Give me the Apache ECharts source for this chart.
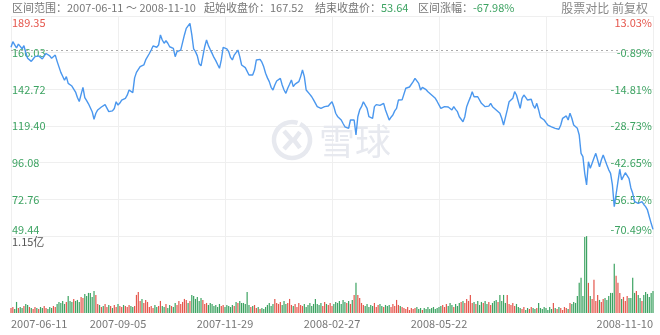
<!DOCTYPE html>
<html>
<head>
<meta charset="utf-8">
<title>区间走势</title>
<script src="https://cdn.jsdelivr.net/npm/echarts@6/dist/echarts.min.js"></script>
<style>
html,body{margin:0;padding:0;background:#fff;}
#main{width:660px;height:335px;}
</style>
</head>
<body>
<div id="main"></div>
<script>
// 区间 2007-06-11 ~ 2008-11-10 前复权收盘价 / 成交量(百万股)
var dateTicks = ['2007-06-11', '2007-09-05', '2007-11-29', '2008-02-27', '2008-05-22', '', '2008-11-10'];
var priceTicks = ['49.44', '72.76', '96.08', '119.40', '142.72', '166.03', '189.35'];
var pctTicks = ['-70.49%', '-56.57%', '-42.65%', '-28.73%', '-14.81%', '-0.89%', '13.03%'];
var startClose = 167.52;

var closes = [
	169.5,173.0,171.0,169.0,171.5,170.0,168.5,170.5,166.0,162.5,
	163.5,160.5,162.0,163.5,162.5,164.0,163.0,162.0,164.0,165.5,
	165.0,164.0,162.5,163.5,164.5,160.5,157.0,153.5,151.0,148.5,
	150.8,146.5,145.5,144.8,145.5,141.0,137.5,135.0,139.5,144.0,
	137.5,135.5,133.5,131.0,128.5,123.7,127.5,129.6,128.5,131.5,
	131.0,133.0,133.8,128.5,129.5,129.0,130.5,134.8,132.7,134.0,
	135.9,135.5,137.0,139.0,142.3,142.0,140.6,150.0,153.5,154.5,
	157.1,156.0,158.2,161.4,162.4,165.5,167.7,170.3,169.8,169.5,
	170.9,177.3,174.1,172.0,173.6,172.0,169.8,170.9,168.8,163.5,
	166.7,167.0,167.7,168.8,177.3,181.5,180.4,184.7,177.5,168.5,
	166.7,164.0,159.0,157.6,158.2,169.8,174.1,170.5,168.0,165.6,
	163.0,161.0,158.5,156.1,161.4,169.4,168.8,168.5,166.7,163.0,
	161.4,164.5,163.5,167.7,163.5,158.2,157.5,156.5,155.4,151.8,
	152.5,151.8,155.0,161.4,160.3,161.8,160.0,157.0,152.9,150.0,
	147.6,144.0,142.3,145.5,148.0,148.7,149.7,145.5,142.3,140.2,
	143.4,146.0,148.7,144.4,146.0,147.0,147.6,150.8,155.0,150.8,
	142.3,141.2,139.5,138.0,136.0,134.8,131.7,131.0,130.6,131.5,
	131.7,130.6,132.1,133.5,134.8,131.7,127.5,125.5,124.3,123.2,
	121.0,118.9,120.0,117.9,123.2,123.0,123.2,113.7,125.3,129.6,
	131.7,134.8,133.8,130.6,125.3,124.8,124.3,131.7,133.0,133.8,
	132.5,131.7,133.8,129.6,126.4,123.2,125.0,126.4,129.0,130.6,
	135.9,135.5,136.0,137.0,143.4,144.0,144.2,144.4,147.6,149.7,
	148.7,146.5,142.3,144.0,143.4,142.5,141.2,140.0,139.1,138.0,
	137.0,135.0,133.8,130.6,131.0,131.7,132.7,131.5,130.6,129.6,
	131.7,130.0,128.5,125.3,125.8,122.1,125.3,131.7,134.8,137.6,
	141.2,138.0,139.1,138.0,137.0,133.8,134.8,131.7,130.6,132.0,
	133.8,131.7,130.5,129.6,130.0,127.5,124.3,120.0,119.4,129.6,
	134.8,135.9,137.0,141.2,139.1,134.8,130.6,137.0,139.1,137.6,
	135.9,136.2,136.4,132.7,130.6,133.8,129.6,124.9,124.0,123.2,
	121.5,120.0,119.5,118.9,120.0,117.9,118.0,117.3,120.0,124.3,
	125.0,125.8,123.2,127.5,124.3,120.0,119.0,117.9,113.7,102.0,
	99.9,89.3,81.9,96.7,92.5,95.7,99.0,102.0,103.1,93.5,
	97.8,100.9,97.8,94.6,91.5,89.3,81.9,68.1,76.0,84.0,
	91.9,85.1,85.5,89.7,90.3,86.0,80.0,76.6,71.3,72.3,
	70.2,69.1,71.3,69.5,68.1,66.0,61.7,57.5,53.64
];

var volumes = [
	7.5,9,6,16.5,7.5,9,7.5,10.5,13.5,12,
	9,7.5,6,9,7.5,6,9,7.5,10.5,7.5,
	6,9,7.5,10.5,9,13.5,16.5,15,18,13.5,
	16.5,25.5,18,16.5,21,18,19.5,16.5,24,22.5,
	28.5,25.5,30,30,24,33,27,13.5,12,9,
	10.5,13.5,9,12,10.5,7.5,12,9,13.5,10.5,
	9,12,10.5,9,12,10.5,9,10.5,27,31.5,
	18,21,15,19.5,16.5,9,10.5,7.5,12,9,
	10.5,18,10.5,9,13.5,7.5,12,10.5,9,15,
	12,18,13.5,16.5,21,19.5,15,18,27,25.5,
	21,24,18,22.5,19.5,13.5,15,12,15,13.5,
	10.5,12,9,13.5,10.5,12,9,12,10.5,9,
	12,10.5,16.5,15,18,15,15,13.5,31.5,12,
	9,10.5,12,7.5,9,6,7.5,6,9,12,
	15,10.5,13.5,21,15,13.5,16.5,12,18,13.5,
	15,21,12,10.5,13.5,9,15,12,10.5,13.5,
	9,12,15,10.5,13.5,21,13.5,12,15,10.5,
	16.5,13.5,12,15,10.5,13.5,16.5,15,18,13.5,
	19.5,16.5,15,18,13.5,19.5,27,45,27,22.5,
	15,12,10.5,13.5,9,12,10.5,15,9,12,
	13.5,10.5,9,12,10.5,12,9,13.5,10.5,19.5,
	12,10.5,9,7.5,6,9,4.5,7.5,6,7.5,
	9,6,7.5,4.5,7.5,6,9,6,7.5,9,
	6,7.5,9,10.5,12,9,13.5,10.5,15,12,
	9,13.5,10.5,15,16.5,18,15,21,18,27,
	15,16.5,13.5,18,12,16.5,15,18,13.5,16.5,
	12,15,18,19.5,16.5,27,18,27,15,27,
	13.5,12,15,10.5,13.5,9,7.5,6,9,4.5,
	7.5,6,9,7.5,6,7.5,15,7.5,6,9,
	7.5,4.5,9,6,15,7.5,6,9,7.5,4.5,
	9,7.5,6,15,13.5,16.5,15,25.5,45,52.5,
	25.5,113.5,114.8,45,25.5,21,49.5,18,27,19.5,
	16.5,21,22.5,19.5,25.5,30,30,73.5,55.5,45,
	30,21,24,18,25.5,22.5,22.5,52.5,30,33,
	27,22.5,18,27,31.5,28.5,24,30,33
];

var priceMin = 49.44;
var priceStep = 23.3183;
var volMax = 115;

var RED = '#e5564c';
var GREEN = '#3da362';
var MARK = '#e7e9ef';
var FONT = '"Noto Sans CJK SC", "Noto Sans", sans-serif';

var last = closes.length - 1;
var endClose = closes[last];
var rangePct = ((endClose / startClose - 1) * 100).toFixed(2) + '%';

var linePts = [];
var barPts = [];
for (var i = 0; i < closes.length; i++) {
	linePts.push([i, closes[i]]);
	var prev = i === 0 ? startClose : closes[i - 1];
	barPts.push({
		value: [i, volumes[i]],
		itemStyle: {color: closes[i] >= prev ? RED : GREEN}
	});
}

function tickIdx(v) {
	return Math.round((v - priceMin) / priceStep);
}

var chart = echarts.init(document.getElementById('main'));
var option = {
	animation: false,
	textStyle: {fontFamily: FONT},
	grid: [
		{left: 11, right: 7, top: 16, height: 220},
		{left: 11, right: 7, top: 236, height: 77}
	],
	xAxis: [{
		type: 'value', gridIndex: 0, min: 0, max: last, interval: last / 6,
		axisLine: {show: false}, axisTick: {show: false}, axisLabel: {show: false},
		splitLine: {show: true, lineStyle: {color: '#efefef'}}
	}, {
		type: 'value', gridIndex: 1, min: 0, max: last, interval: last / 6,
		axisLine: {show: false}, axisTick: {show: false},
		splitLine: {show: true, lineStyle: {color: '#efefef'}},
		axisLabel: {
			color: '#777', fontSize: 11, margin: 5, fontFamily: FONT,
			showMinLabel: true, showMaxLabel: true,
			alignMinLabel: 'left', alignMaxLabel: 'right',
			formatter: function (v) {
				return dateTicks[Math.round(v / (last / 6))] || '';
			}
		}
	}],
	yAxis: [{
		type: 'value', gridIndex: 0, position: 'left',
		min: priceMin, max: priceMin + priceStep * 6, interval: priceStep,
		axisLine: {show: false}, axisTick: {show: false},
		splitLine: {show: true, lineStyle: {color: '#efefef'}},
		axisLabel: {
			inside: true, margin: 1, fontSize: 11, fontFamily: FONT,
			showMinLabel: true, showMaxLabel: true,
			formatter: function (v) {
				var k = tickIdx(v);
				var s = priceTicks[k];
				if (k === 6) return '{rt|' + s + '}';
				if (k === 0) return '{gb|' + s + '}';
				return '{g|' + s + '}';
			},
			rich: {
				g: {color: GREEN, fontSize: 11},
				rt: {color: RED, fontSize: 11, padding: [14, 0, 0, 0]},
				gb: {color: GREEN, fontSize: 11, padding: [0, 0, 12, 0]}
			}
		}
	}, {
		type: 'value', gridIndex: 0, position: 'right',
		min: priceMin, max: priceMin + priceStep * 6, interval: priceStep,
		axisLine: {show: false}, axisTick: {show: false}, splitLine: {show: false},
		axisLabel: {
			inside: true, margin: 1, fontSize: 11, fontFamily: FONT,
			showMinLabel: true, showMaxLabel: true,
			formatter: function (v) {
				var k = tickIdx(v);
				var s = pctTicks[k];
				if (k === 6) return '{rt|' + s + '}';
				if (k === 0) return '{gb|' + s + '}';
				return '{g|' + s + '}';
			},
			rich: {
				g: {color: GREEN, fontSize: 11},
				rt: {color: RED, fontSize: 11, padding: [14, 0, 0, 0]},
				gb: {color: GREEN, fontSize: 11, padding: [0, 0, 12, 0]}
			}
		}
	}, {
		type: 'value', gridIndex: 1, min: 0, max: volMax, interval: volMax,
		axisLine: {show: false}, axisTick: {show: false}, splitLine: {show: false},
		axisLabel: {
			inside: true, margin: 1, fontSize: 11, fontFamily: FONT,
			showMinLabel: true, showMaxLabel: true,
			formatter: function (v) {
				return v >= volMax ? '{t|' + (volMax / 100).toFixed(2) + '亿}' : '';
			},
			rich: {t: {color: '#555', fontSize: 11, padding: [12, 0, 0, 0]}}
		}
	}],
	graphic: [
		{type: 'text', x: 12, y: 8, style: {text: '区间范围：2007-06-11 ～ 2008-11-10', fill: '#777', font: '11px ' + FONT, verticalAlign: 'middle'}},
		{type: 'text', x: 204, y: 8, style: {text: '起始收盘价：' + startClose.toFixed(2), fill: '#777', font: '11px ' + FONT, verticalAlign: 'middle'}},
		{type: 'text', x: 315, y: 8, style: {
			text: '{a|结束收盘价：}{b|' + endClose.toFixed(2) + '}', verticalAlign: 'middle', font: '11px ' + FONT,
			rich: {a: {fill: '#777', fontSize: 11, fontFamily: FONT}, b: {fill: GREEN, fontSize: 11, fontFamily: FONT}}
		}},
		{type: 'text', x: 418, y: 8, style: {
			text: '{a|区间涨幅：}{b|' + rangePct + '}', verticalAlign: 'middle', font: '11px ' + FONT,
			rich: {a: {fill: '#777', fontSize: 11, fontFamily: FONT}, b: {fill: GREEN, fontSize: 11, fontFamily: FONT}}
		}},
		{type: 'text', x: 648, y: 8, style: {text: '股票对比 前复权', fill: '#888', font: '12px ' + FONT, align: 'right', verticalAlign: 'middle'}},
		// 水印
		{type: 'arc', z: 1, shape: {cx: 292, cy: 140, r: 18, startAngle: -Math.PI * 0.35, endAngle: Math.PI * 1.6}, style: {fill: 'none', stroke: MARK, lineWidth: 4.5}},
		{type: 'polyline', z: 1, shape: {points: [[284, 131], [292, 140], [284, 149]]}, style: {stroke: MARK, lineWidth: 4.5, fill: 'none'}},
		{type: 'polyline', z: 1, shape: {points: [[300, 132], [294, 140], [300, 148]]}, style: {stroke: MARK, lineWidth: 4.5, fill: 'none'}},
		{type: 'text', z: 1, x: 319, y: 141, style: {text: '雪球', fill: MARK, font: '36px ' + FONT, verticalAlign: 'middle'}}
	],
	series: [{
		type: 'line', xAxisIndex: 0, yAxisIndex: 0, z: 5,
		data: linePts, symbol: 'none', smooth: false,
		lineStyle: {color: '#4a97ee', width: 1.4},
		markLine: {
			silent: true, symbol: ['none', 'none'], label: {show: false},
			lineStyle: {color: '#aaa', type: [2, 3], width: 1},
			data: [{yAxis: startClose}]
		}
	}, {
		type: 'bar', xAxisIndex: 1, yAxisIndex: 2,
		data: barPts, barWidth: 1.2
	}]
};
chart.setOption(option);
</script>
</body>
</html>
